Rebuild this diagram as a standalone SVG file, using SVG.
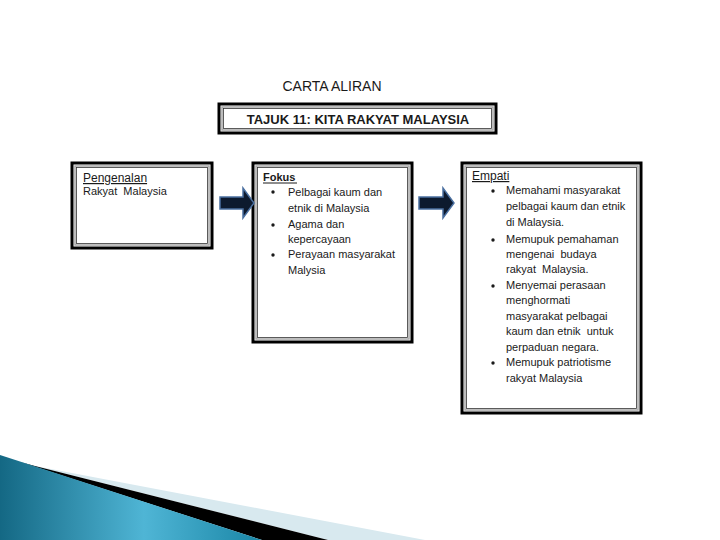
<svg xmlns="http://www.w3.org/2000/svg" width="720" height="540" viewBox="0 0 720 540">
<defs>
<style>
text{font-family:"Liberation Sans",Arial,sans-serif;fill:#1a1a1a;white-space:pre}
.t{font-size:11px}
.h{font-size:12px;text-decoration:underline}
.outer{fill:#fff;stroke:#000;stroke-width:3}
.mid{fill:none;stroke:#a8a8a8;stroke-width:1.5}
.inn{fill:none;stroke:#333;stroke-width:0.8}
.arrow{fill:#0d1a2e;stroke:#4a6fa0;stroke-width:1.5;stroke-linejoin:miter}
.ul{stroke:#1a1a1a;stroke-width:1}
</style>
<linearGradient id="teal" x1="0" y1="0" x2="1" y2="0">
<stop offset="0" stop-color="#146884"/>
<stop offset="0.55" stop-color="#4fb5d5"/>
<stop offset="1" stop-color="#1a86a6"/>
</linearGradient>
</defs>
<rect width="720" height="540" fill="#fff"/>

<g id="swoosh">
<polygon points="35,466 425,540 328,540" fill="#d8e9ef"/>
<polygon points="35,466 328,540 262,540 20,462" fill="#000"/>
<polygon points="0,455 262,540 0,540" fill="url(#teal)"/>
</g>

<text x="332" y="91" font-size="14" text-anchor="middle">CARTA ALIRAN</text>

<g id="title">
<rect class="outer" x="219" y="104" width="277" height="29"/>
<rect class="mid" x="222" y="107" width="271" height="23"/>
<rect class="inn" x="223.5" y="108.5" width="268" height="20"/>
<text x="358" y="124" font-size="13" font-weight="bold" text-anchor="middle">TAJUK 11: KITA RAKYAT MALAYSIA</text>
</g>

<g id="box1">
<rect class="outer" x="72" y="163" width="140" height="85"/>
<rect class="mid" x="75" y="166" width="134" height="79"/>
<rect class="inn" x="76.5" y="167.5" width="131" height="76"/>
<text class="h" x="83" y="182">Pengenalan</text>
<text class="t" x="83" y="195">Rakyat  Malaysia</text>
</g>

<g id="box2">
<rect class="outer" x="253" y="163" width="159" height="179"/>
<rect class="mid" x="256" y="166" width="153" height="173"/>
<rect class="inn" x="257.5" y="167.5" width="150" height="170"/>
<text x="263" y="181" font-size="11" font-weight="bold">Fokus</text>
<line class="ul" x1="263" y1="183" x2="297" y2="183"/>
<g fill="#1a1a1a">
<circle cx="273" cy="192" r="1.7"/>
<circle cx="273" cy="225" r="1.7"/>
<circle cx="273" cy="255" r="1.7"/>
</g>
<text class="t" x="288" y="196">Pelbagai kaum dan</text>
<text class="t" x="288" y="212">etnik di Malaysia</text>
<text class="t" x="288" y="228">Agama dan</text>
<text class="t" x="288" y="243">kepercayaan</text>
<text class="t" x="288" y="258">Perayaan masyarakat</text>
<text class="t" x="288" y="274">Malysia</text>
</g>

<g id="box3">
<rect class="outer" x="462" y="163" width="179" height="250"/>
<rect class="mid" x="465" y="166" width="173" height="244"/>
<rect class="inn" x="466.5" y="167.5" width="170" height="241"/>
<text class="h" x="472" y="180">Empati</text>
<g fill="#1a1a1a">
<circle cx="493" cy="191" r="1.7"/>
<circle cx="493" cy="240" r="1.7"/>
<circle cx="493" cy="286" r="1.7"/>
<circle cx="493" cy="363" r="1.7"/>
</g>
<text class="t" x="506" y="194">Memahami masyarakat</text>
<text class="t" x="506" y="210">pelbagai kaum dan etnik</text>
<text class="t" x="506" y="226">di Malaysia.</text>
<text class="t" x="506" y="243">Memupuk pemahaman</text>
<text class="t" x="506" y="258">mengenai  budaya</text>
<text class="t" x="506" y="273">rakyat  Malaysia.</text>
<text class="t" x="506" y="289">Menyemai perasaan</text>
<text class="t" x="506" y="304">menghormati</text>
<text class="t" x="506" y="320">masyarakat pelbagai</text>
<text class="t" x="506" y="335">kaum dan etnik  untuk</text>
<text class="t" x="506" y="351">perpaduan negara.</text>
<text class="t" x="506" y="366">Memupuk patriotisme</text>
<text class="t" x="506" y="382">rakyat Malaysia</text>
</g>

<g id="connectors">
<polygon class="arrow" points="220,197 243,197 243,188 254,203 243,218 243,209 220,209"/>
<polygon class="arrow" points="419,197 443,197 443,188 454,203 443,218 443,209 419,209"/>
</g>
</svg>
